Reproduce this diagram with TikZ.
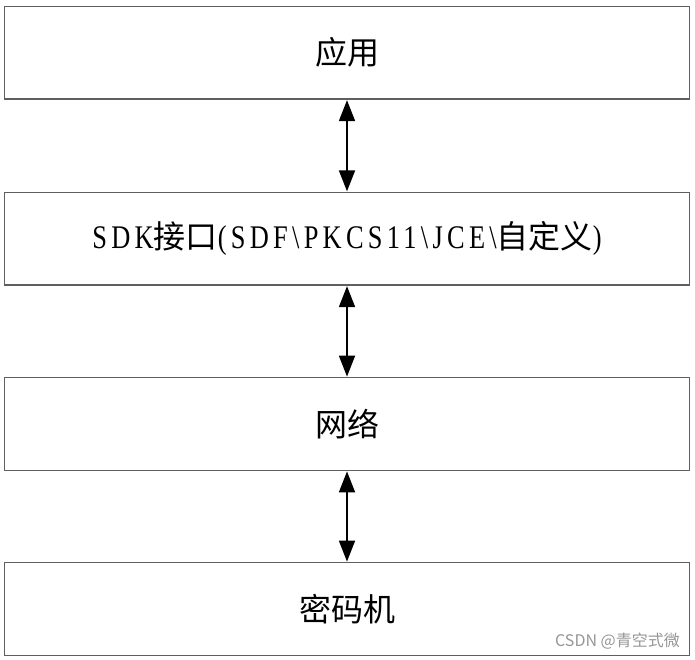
\documentclass[tikz,border=0pt]{standalone}
\usepackage{fontspec}
\usetikzlibrary{arrows.meta}
\newfontfamily\cjk{Noto Sans CJK SC}
\newfontfamily\lat[FakeStretch=0.8,LetterSpace=13]{Liberation Serif}
\definecolor{boxline}{RGB}{95,95,95}
\definecolor{wm}{RGB}{150,150,150}
\tikzset{
  layer/.style={draw=boxline, line width=1.3pt, minimum width=685pt, minimum height=92.5pt,
    inner sep=0pt, font=\fontsize{32}{36}\selectfont\cjk},
  biarrow/.style={{Triangle[length=21pt,width=16pt]}-{Triangle[length=21pt,width=16pt]}, line width=1.8pt, black, shorten <=0.5pt, shorten >=0.5pt},
}
\begin{document}
\begin{tikzpicture}[x=1pt,y=1pt]
\useasboundingbox (0,0) rectangle (695,-660);
\node[layer] (app) at (347,-52.75) {应用};
\node[layer] (sdk) at (347,-238.75) {{\fontsize{33}{36}\selectfont\lat SDK}接口{\fontsize{33}{36}\selectfont\lat (SDF\textbackslash PKCS11\textbackslash JCE\textbackslash}自定义{\fontsize{33}{36}\selectfont\lat )}};
\node[layer] (net) at (347,-424) {网络};
\node[layer] (hsm) at (347,-609) {密码机};
\draw[biarrow] (app.south) -- (sdk.north);
\draw[biarrow] (sdk.south) -- (net.north);
\draw[biarrow] (net.south) -- (hsm.north);
\node[font=\fontsize{16}{18}\selectfont\cjk, text=wm, anchor=east, inner sep=0pt] (wmark) at (680,-641) {CSDN @青空式微};
\end{tikzpicture}
\end{document}
